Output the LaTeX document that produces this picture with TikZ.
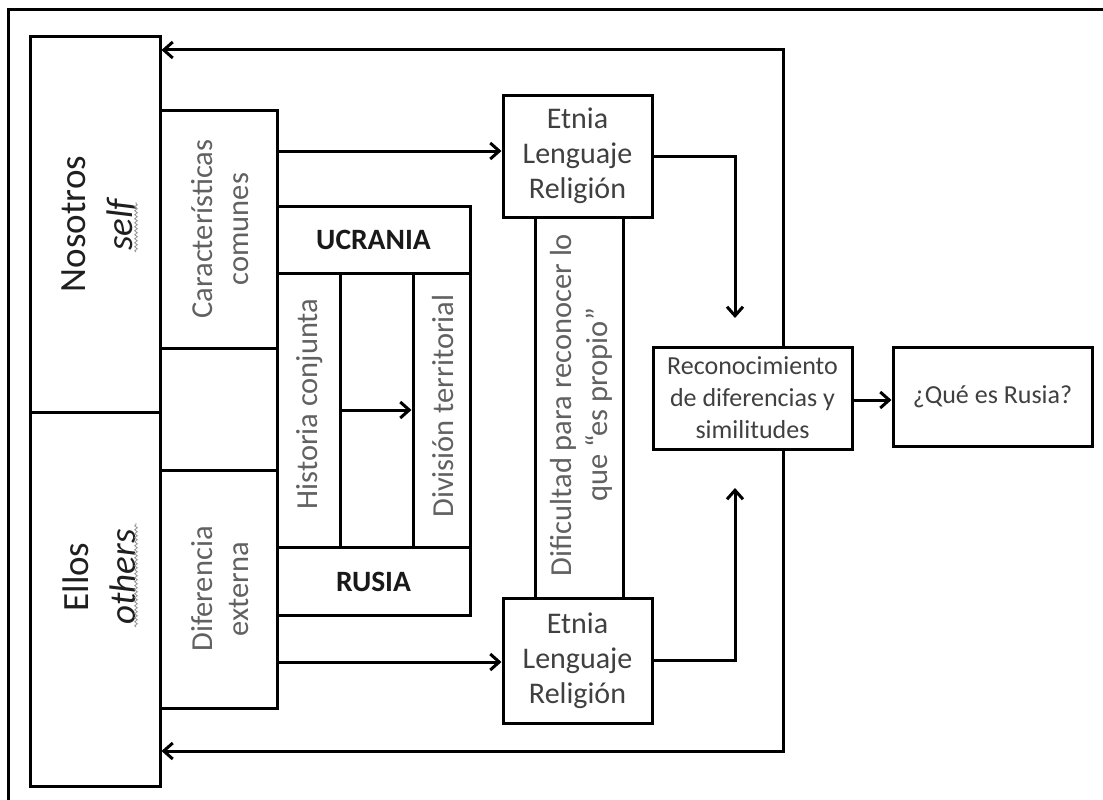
\documentclass[tikz,border=0pt]{standalone}
\usepackage{fontspec}
\setmainfont{Carlito}
\usetikzlibrary{arrows.meta,decorations.pathmorphing}
\pgfdeclarelayer{bg}
\pgfsetlayers{bg,main}
\tikzset{
 box/.style={draw=black, line width=3pt, fill=white, inner sep=0pt, rectangle},
 txt/.style={text=black!75, align=center, inner sep=0pt, font=\fontsize{30pt}{35pt}\selectfont},
 vtxt/.style={txt, rotate=90, text=black!62, font=\fontsize{30.5pt}{36pt}\selectfont},
 smalltxt/.style={txt, font=\fontsize{26pt}{32pt}\selectfont},
 boldtxt/.style={txt, text=black!90, font=\fontsize{29.5pt}{35pt}\selectfont\bfseries},
 bigtxt/.style={vtxt, text=black!88, font=\fontsize{37pt}{47pt}\selectfont},
 arr/.style={line width=3pt, -{Straight Barb[length=9pt,width=16pt]}},
 arrboth/.style={line width=3pt, {Straight Barb[length=9pt,width=16pt]}-{Straight Barb[length=9pt,width=16pt]}},
 squig/.style={draw=black!40, line width=0.9pt, decorate, decoration={snake, amplitude=1.3pt, segment length=4pt}},
 frame/.style={line width=3pt},
}
\begin{document}
\begin{tikzpicture}[x=1pt,y=-1pt]
\useasboundingbox (0,0) rectangle (1103,800);
\draw[frame] (1103,10) -- (8,10) -- (8,800);

% left column
\node[box, minimum width=130pt, minimum height=375pt] (nos) at (95,224.5) {};
\node[box, minimum width=130pt, minimum height=374pt] (ell) at (95,599) {};
\node[bigtxt] (nost) at (99,224) {Nosotros\\\textit{self}};
\node[bigtxt] (ellt) at (99,577) {Ellos\\\textit{others}};
\draw[squig] (136,252) -- (136,202);
\draw[squig] (136,627) -- (136,523);

% second column
\node[box, minimum width=117pt, minimum height=238pt] (car) at (218.5,229) {};
\node[box, minimum width=117pt, minimum height=122pt] (emp) at (218.5,409) {};
\node[box, minimum width=117pt, minimum height=238pt] (dif) at (218.5,589) {};
\node[vtxt] (cart) at (220,229) {Características\\comunes};
\node[vtxt] (dift) at (220,589) {Diferencia\\externa};

% Ucrania / Rusia block
\node[box, minimum width=193pt, minimum height=67pt] (ucr) at (373.5,239.5) {};
\node[boldtxt] (ucrt) at (373.5,240) {UCRANIA};
\node[box, minimum width=63pt, minimum height=274pt] (his) at (308.5,410) {};
\node[box, minimum width=73pt, minimum height=274pt] (mid) at (376.5,410) {};
\node[box, minimum width=57pt, minimum height=274pt] (div) at (441.5,410) {};
\node[vtxt] (hist) at (310,404) {Historia conjunta};
\node[vtxt] (divt) at (443,406) {División territorial};
\node[box, minimum width=193pt, minimum height=68pt] (rus) at (373.5,581) {};
\node[boldtxt] (rust) at (373.5,582) {RUSIA};

% Etnia boxes and Dificultad
\node[box, minimum width=149pt, minimum height=122pt] (et1) at (577.5,156) {};
\node[txt] (et1t) at (577.5,156) {Etnia\\Lenguaje\\Religión};
\node[box, minimum width=88pt, minimum height=381pt] (dfc) at (579,407.5) {};
\node[vtxt] (dfct) at (581,405) {Dificultad para reconocer lo\\que “es propio”};
\node[box, minimum width=149pt, minimum height=125pt] (et2) at (577.5,660.5) {};
\node[txt] (et2t) at (577.5,661) {Etnia\\Lenguaje\\Religión};

% right side
\node[box, minimum width=199pt, minimum height=102pt] (rec) at (752.5,398) {};
\node[smalltxt] (rect) at (752.5,398) {Reconocimiento\\de diferencias y\\similitudes};
\node[box, minimum width=199pt, minimum height=99pt] (que) at (992.5,396.5) {};
\node[smalltxt] (quet) at (992.5,397) {¿Qué es Rusia?};

% coordinates
\coordinate (tr) at (783,50);
\coordinate (br) at (783,751);
\coordinate (c1) at (276,151);
\coordinate (c2) at (276,662);
\coordinate (a1) at (735,318);
\coordinate (a2) at (735,488);
\coordinate (r1) at (852,400);

% feedback loop behind boxes
\begin{pgfonlayer}{bg}
\draw[arrboth] (tr -| nos.east) -- (tr) -- (br) -- (br -| ell.east);
\end{pgfonlayer}

% connectors
\draw[arr] (c1) -- (c1 -| et1.west);
\draw[arr] (c2) -- (c2 -| et2.west);
\draw[arr] (his.east) -- (div.west);
\draw[arr] (et1.east) -| (a1);
\draw[arr] (et2.east) -| (a2);
\draw[arr] (r1) -- (r1 -| que.west);
\end{tikzpicture}
\end{document}
